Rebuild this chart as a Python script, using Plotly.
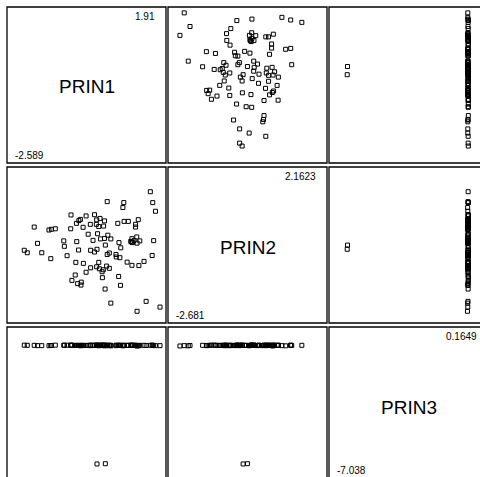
import plotly.graph_objects as go

W, H = 480, 477

var_names = ["PRIN1", "PRIN2", "PRIN3"]
min_labels = ["-2.589", "-2.681", "-7.038"]
max_labels = ["1.91", "2.1623", "0.1649"]

prin1 = [1.59, 0.16, 0.71, 0.68, 1.67, 1.76, -1.04, -0.54, -0.26, -0.08,
         -0.73, -0.78, -0.86, -0.19, 0.07, -0.40, -0.20, -0.12, 0.04, 0.51,
         0.72, 0.86, 1.19, 1.10, 1.10, -2.26, -1.77, -1.69, -1.56, -1.05,
         -0.64, -0.47, -0.16, 0.18, -0.31, -0.06, 0.07, 0.28, 0.098, 0.55,
         0.61, -2.15, -1.28, -0.85, -1.26, 0.98, 1.14, 0.97, 1.15, 1.24,
         1.70, -2.589, -2.49, -2.01, -0.79, -0.39, -0.26, -0.178, 0.16, 0.23,
         0.45, 0.46, 0.58, -1.71, -1.17, 0.82, 0.98, 1.21, 1.38, 1.65,
         -0.88, -0.63, -0.12, -0.19, -0.10, 0.03, 0.14, 0.23, -0.39, -0.54,
         -0.90, -1.01, -0.82, -0.70, -0.71, -0.00, 0.54, 0.60, 0.09, 0.28,
         1.45, 1.15, 1.91, -0.01, 0.94, 1.00, 1.05]

prin2 = [2.1623, 1.76, 1.72, 1.52, 1.72, 1.37, 1.22, 1.18, 1.23, 1.08,
         1.04, 0.99, 0.88, 1.02, 0.98, 0.84, 0.84, 0.75, 0.77, 0.88,
         0.96, 0.96, 1.03, 0.84, 0.73, 0.73, 0.61, 0.64, 0.66, 0.66,
         0.72, 0.44, 0.46, 0.40, 0.19, 0.25, 0.27, 0.25, 0.00, 0.10,
         -0.11, 0.07, 0.17, 0.14, -0.05, 0.26, 0.33, 0.12, 0.08, 0.17,
         0.18, -0.21, -0.31, -0.31, -0.20, -0.21, -0.28, -0.17, -0.38, -0.32,
         -0.38, -0.48, -0.51, -0.55, -0.43, -0.69, -0.82, -0.83, -0.66, -0.42,
         -0.70, -0.74, -0.70, -0.88, -0.96, -1.00, -0.85, -0.94, -0.92, -1.10,
         -1.21, -1.43, -1.56, -1.50, -1.62, -1.32, -1.27, -1.63, -1.78, -2.35,
         -2.28, -2.681, -2.51, -1.08, 0.15, 0.10, 0.18]

prin3 = [0.15, 0.14, 0.16, 0.12, 0.15, 0.13, 0.16, 0.14, 0.15, 0.1649,
         0.13, 0.15, 0.14, 0.16, 0.12, 0.15, 0.14, 0.13, 0.16, 0.15,
         0.14, 0.15, 0.13, 0.16, 0.14, 0.15, 0.13, 0.14, 0.16, 0.15,
         0.14, 0.15, 0.16, 0.13, 0.15, 0.14, 0.16, 0.15, -7.02, 0.14,
         0.15, 0.13, 0.16, 0.14, 0.15, 0.16, 0.14, 0.15, 0.13, 0.15,
         0.14, 0.16, 0.15, 0.13, 0.14, 0.16, 0.15, -7.038, 0.14, 0.15,
         0.16, 0.13, 0.15, 0.14, 0.16, 0.15, 0.14, 0.13, 0.15, 0.16,
         0.14, 0.15, 0.13, 0.16, 0.15, 0.14, 0.16, 0.15, 0.13, 0.14,
         0.15, 0.16, 0.14, 0.15, 0.13, 0.16, 0.15, 0.14, 0.15, 0.12,
         0.14, 0.11, 0.13, 0.15, 0.16, 0.14, 0.15]

variables = [prin1, prin2, prin3]

# panel geometry in pixels (nominal; last column/row run past the window edge)
cols = [(7, 166), (168, 327), (329, 488)]
rows = [(7, 163), (167, 323), (327, 483)]
# axis ranges over the nominal panel extents
x_full = [[-3.162, 2.109], [-3.155, 3.162], [-8.12, 1.33]]
y_full = [[-3.162, 2.109], [-3.155, 3.162], [-8.19, 1.26]]

FONT = "Liberation Sans, Arial, sans-serif"

fig = go.Figure()
shapes = []
annotations = []

for i in range(3):
    r0, r1 = rows[i]
    for j in range(3):
        c0, c1 = cols[j]
        k = i * 3 + j + 1
        sfx = "" if k == 1 else str(k)
        vc1 = min(c1, W)
        vr1 = min(r1, H)
        xr = x_full[j]
        yr = y_full[i]
        xlo = xr[0]
        xhi = xr[0] + (xr[1] - xr[0]) * (vc1 - c0) / (c1 - c0)
        yhi = yr[1]
        ylo = yr[1] - (yr[1] - yr[0]) * (vr1 - r0) / (r1 - r0)
        fig.layout["xaxis" + sfx] = dict(domain=[c0 / W, vc1 / W], range=[xlo, xhi],
                                         visible=False, anchor="y" + sfx, fixedrange=True)
        fig.layout["yaxis" + sfx] = dict(domain=[1 - vr1 / H, 1 - r0 / H], range=[ylo, yhi],
                                         visible=False, anchor="x" + sfx, fixedrange=True)
        if i != j:
            fig.add_trace(go.Scatter(
                x=variables[j], y=variables[i], mode="markers",
                marker=dict(symbol="square-open", size=4, color="black",
                            line=dict(width=1, color="black")),
                xaxis="x" + sfx, yaxis="y" + sfx, showlegend=False, hoverinfo="skip",
                cliponaxis=False))
        else:
            annotations.append(dict(
                x=(c0 + c1) / 2 / W, y=1 - ((r0 + r1) / 2 + 2) / H, xref="paper", yref="paper",
                text=var_names[i], showarrow=False, xanchor="center", yanchor="middle",
                font=dict(family=FONT, size=19, color="black")))
            annotations.append(dict(
                x=(c1 - 9) / W, y=1 - (r0 + 9) / H, xref="paper", yref="paper",
                text=max_labels[i], showarrow=False, xanchor="right", yanchor="middle",
                font=dict(family=FONT, size=10, color="black")))
            ymin_px = min(r1 - 8, H - 7)
            annotations.append(dict(
                x=(c0 + 6) / W, y=1 - ymin_px / H, xref="paper", yref="paper",
                text=min_labels[i], showarrow=False, xanchor="left", yanchor="middle",
                font=dict(family=FONT, size=10, color="black")))
        shapes.append(dict(type="rect", xref="paper", yref="paper",
                           x0=c0 / W, x1=c1 / W, y0=1 - r1 / H, y1=1 - r0 / H,
                           line=dict(color="black", width=1.3), fillcolor="rgba(0,0,0,0)"))

fig.update_layout(width=W, height=H, margin=dict(l=0, r=0, t=0, b=0),
                  paper_bgcolor="white", plot_bgcolor="white",
                  shapes=shapes, annotations=annotations, showlegend=False)

fig.write_html("out.html", config={"displayModeBar": False},
               post_script="document.body.style.margin='0';document.body.style.overflow='hidden';")
